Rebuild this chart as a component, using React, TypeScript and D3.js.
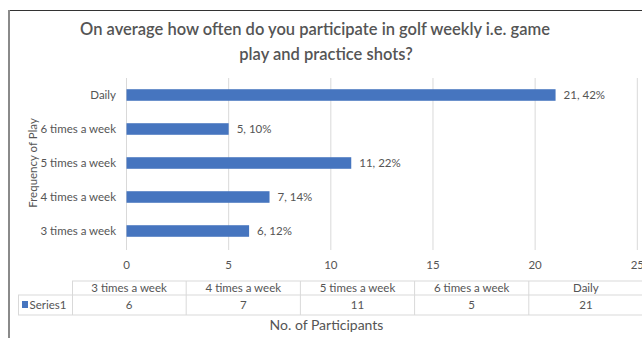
import React from "react";
import * as d3 from "d3";

const categories = ["3 times a week", "4 times a week", "5 times a week", "6 times a week", "Daily"];
const values = [6, 7, 11, 5, 21];
const percents = ["12%", "14%", "22%", "10%", "42%"];
const xTicks = [0, 5, 10, 15, 20, 25];
const seriesName = "Series1";
const titleLines = ["On average how often do you participate in golf weekly i.e. game", "play and practice shots?"];
const xTitle = "No. of Participants";
const yTitle = "Frequency of Play";

const W = 642;
const H = 338;
const FONT = "Lato, 'Open Sans', sans-serif";
const BAR = "#4675bf";
const TEXT = "#555555";
const GRID = "#d9d9d9";

export default function App() {
  const x = d3.scaleLinear().domain([0, 25]).range([126.5, 637.3]);
  const yOrder = [...categories].reverse();
  const y = d3.scaleBand<string>().domain(yOrder).range([78, 248]).paddingInner(0.66).paddingOuter(0.33);
  const col = d3.scaleBand<string>().domain(categories).range([72, 643]);
  const tTop = 281, tMid = 295, tBot = 315;

  return (
    <svg width={W} height={H} style={{ position: "absolute", left: 0, top: 0, background: "#fff" }} fontFamily={FONT}>
      <rect x={0} y={0} width={W} height={H} fill="#fff" />
      {/* chart border */}
      <line x1={8} y1={10.5} x2={W} y2={10.5} stroke="#333" strokeWidth={1} />
      <line x1={9} y1={10} x2={9} y2={H} stroke="#8a8a8a" strokeWidth={2} />
      {/* title */}
      {titleLines.map((t, i) => (
        <text key={i} x={i === 0 ? 315 : 326} y={35 + i * 25} textAnchor="middle" fontSize={16.5} fontWeight={600} fill={TEXT}>
          {t}
        </text>
      ))}
      {/* gridlines */}
      {xTicks.map((t) => (
        <line key={t} x1={x(t)} x2={x(t)} y1={78} y2={250} stroke={GRID} strokeWidth={1} />
      ))}
      {/* tick labels */}
      {xTicks.map((t) => (
        <text key={t} x={x(t)} y={269} textAnchor="middle" fontSize={11.5} fill={TEXT}>
          {t}
        </text>
      ))}
      {/* bars */}
      {categories.map((c, i) => (
        <g key={c}>
          <rect x={x(0)} y={y(c)} width={x(values[i]) - x(0)} height={y.bandwidth()} fill={BAR} />
          <text x={x(values[i]) + 8} y={(y(c) as number) + y.bandwidth() / 2 + 4} fontSize={11.5} fill={TEXT}>
            {values[i]}, {percents[i]}
          </text>
          <text x={116} y={(y(c) as number) + y.bandwidth() / 2 + 4} textAnchor="end" fontSize={11.5} fill={TEXT}>
            {c}
          </text>
        </g>
      ))}
      {/* y axis title */}
      <text transform={`translate(36.5,163) rotate(-90)`} textAnchor="middle" fontSize={11.5} fill={TEXT}>
        {yTitle}
      </text>
      {/* data table */}
      <line x1={72} x2={W} y1={tTop} y2={tTop} stroke={GRID} />
      <line x1={18} x2={W} y1={tMid} y2={tMid} stroke={GRID} />
      <line x1={18} x2={W} y1={tBot} y2={tBot} stroke={GRID} />
      <line x1={18.5} x2={18.5} y1={tMid} y2={tBot} stroke={GRID} />
      <line x1={72.5} x2={72.5} y1={tTop} y2={tBot} stroke={GRID} />
      {categories.map((c, i) => (
        <g key={c}>
          <line x1={(col(c) as number) + col.bandwidth()} x2={(col(c) as number) + col.bandwidth()} y1={tTop} y2={tBot} stroke={GRID} />
          <text x={(col(c) as number) + col.bandwidth() / 2} y={tTop + 11} textAnchor="middle" fontSize={11.5} fill={TEXT}>
            {c}
          </text>
          <text x={(col(c) as number) + col.bandwidth() / 2} y={tMid + 14} textAnchor="middle" fontSize={11.5} fill={TEXT}>
            {values[i]}
          </text>
        </g>
      ))}
      <rect x={22} y={301} width={6} height={7} fill={BAR} />
      <text x={29.5} y={309} fontSize={11.5} fill={TEXT}>
        {seriesName}
      </text>
      <text x={326.5} y={330} textAnchor="middle" fontSize={14} fill={TEXT}>
        {xTitle}
      </text>
    </svg>
  );
}
